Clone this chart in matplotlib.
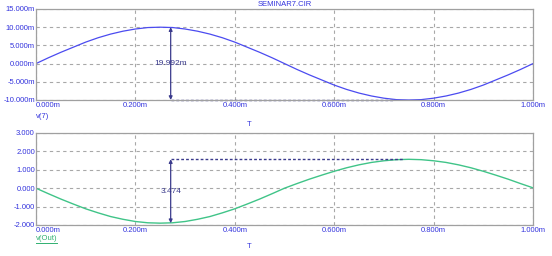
import matplotlib
matplotlib.use("Agg")
import matplotlib.pyplot as plt

plt.rcParams['font.family'] = ['Liberation Sans', 'DejaVu Sans']

# time axis (ms) and the two traces
t_ms = [0.000, 0.025, 0.050, 0.075, 0.100, 0.125, 0.150, 0.175, 0.200, 0.225,
        0.250, 0.275, 0.300, 0.325, 0.350, 0.375, 0.400, 0.425, 0.450, 0.475,
        0.500, 0.525, 0.550, 0.575, 0.600, 0.625, 0.650, 0.675, 0.700, 0.725,
        0.750, 0.775, 0.800, 0.825, 0.850, 0.875, 0.900, 0.925, 0.950, 0.975,
        1.000]
v7_mv = [0.0, 1.6, 3.1, 4.5, 5.9, 7.1, 8.1, 8.9, 9.5, 9.9,
         10.0, 9.9, 9.5, 8.9, 8.1, 7.1, 5.9, 4.5, 3.1, 1.6,
         0.0, -1.6, -3.1, -4.5, -5.9, -7.1, -8.1, -8.9, -9.5, -9.9,
         -10.0, -9.9, -9.5, -8.9, -8.1, -7.1, -5.9, -4.5, -3.1, -1.6,
         0.0]
vout = [0.00, -0.30, -0.59, -0.86, -1.12, -1.34, -1.54, -1.69, -1.81, -1.88,
        -1.90, -1.88, -1.81, -1.69, -1.54, -1.34, -1.12, -0.86, -0.59, -0.30,
        0.00, 0.25, 0.49, 0.71, 0.92, 1.11, 1.27, 1.40, 1.49, 1.55,
        1.57, 1.55, 1.49, 1.40, 1.27, 1.11, 0.92, 0.71, 0.49, 0.25,
        0.02]

x_ticks = [0.0, 0.2, 0.4, 0.6, 0.8, 1.0]
x_labels = ["0.000m", "0.200m", "0.400m", "0.600m", "0.800m", "1.000m"]
top_ticks = [-10, -5, 0, 5, 10, 15]
top_labels = ["-10.000m", "-5.000m", "0.000m", "5.000m", "10.000m", "15.000m"]
bot_ticks = [-2, -1, 0, 1, 2, 3]
bot_labels = ["-2.000", "-1.000", "0.000", "1.000", "2.000", "3.000"]

# cursor readouts
cur_t = 0.271
top_hi, top_lo, top_lo_t = 10.0, -10.0, 0.72
bot_hi, bot_lo, bot_hi_t = 1.574, -1.90, 0.74

TXT = '#3333dd'
CUR = '#3a3a8c'
GRID = '#a8a8a8'
FS = 5.5

fig = plt.figure(figsize=(5.52, 2.56), dpi=100)
ax1 = fig.add_axes([0.0652, 0.6094, 0.9004, 0.3555])
ax2 = fig.add_axes([0.0652, 0.1211, 0.9004, 0.3594])


def style(ax, yt, yl):
    ax.set_xlim(0, 1)
    ax.set_ylim(yt[0], yt[-1])
    ax.set_xticks(x_ticks)
    ax.set_xticklabels(x_labels)
    ax.set_yticks(yt)
    ax.set_yticklabels(yl)
    ax.tick_params(length=0, labelsize=FS, labelcolor=TXT)
    ax.tick_params(axis='x', pad=1.8)
    ax.tick_params(axis='y', pad=0.8)
    ax.get_xticklabels()[0].set_ha('left')
    ax.grid(True, color=GRID, linestyle=(0, (3, 3)), linewidth=0.8)
    for s in ax.spines.values():
        s.set_color('#a0a0a0')
        s.set_linewidth(0.9)


style(ax1, top_ticks, top_labels)
style(ax2, bot_ticks, bot_labels)

ax1.plot(t_ms, v7_mv, color='#4b4bf0', linewidth=0.9)
ax2.plot(t_ms, vout, color='#40c488', linewidth=1.0)

# cursor arrows and dashed reference lines
ax1.annotate('', xy=(cur_t, top_hi), xytext=(cur_t, top_lo),
             arrowprops=dict(arrowstyle='<|-|>', color=CUR, lw=0.9,
                             mutation_scale=5, shrinkA=0, shrinkB=0))
ax1.plot([cur_t, top_lo_t], [top_lo, top_lo], color=CUR, lw=1.0,
         linestyle=(0, (2, 1.5)), clip_on=False)
ax1.text(cur_t, 0, "19.992m", ha='center', va='center', fontsize=FS + 0.5, color=CUR)

ax2.annotate('', xy=(cur_t, bot_hi), xytext=(cur_t, bot_lo),
             arrowprops=dict(arrowstyle='<|-|>', color=CUR, lw=0.9,
                             mutation_scale=5, shrinkA=0, shrinkB=0))
ax2.plot([cur_t, bot_hi_t], [bot_hi, bot_hi], color=CUR, lw=1.0,
         linestyle=(0, (2, 1.5)))
ax2.text(cur_t, -0.2, "3.474", ha='center', va='center', fontsize=FS + 0.5, color=CUR)

fig.text(0.5154, 0.984, "SEMINAR7.CIR", ha='center', va='center', fontsize=FS, color=TXT)
fig.text(36 / 552, 1 - 116 / 256, "v(7)", ha='left', va='center', fontsize=FS, color=TXT)
fig.text(249 / 552, 1 - 124 / 256, "T", ha='center', va='center', fontsize=FS, color=TXT)
fig.text(36 / 552, 1 - 238.5 / 256, "v(Out)", ha='left', va='center', fontsize=FS,
         color='#30b070')
fig.add_artist(plt.Line2D([36 / 552, 57 / 552], [1 - 242.5 / 256, 1 - 242.5 / 256],
                          color='#30b070', lw=0.7))
fig.text(249 / 552, 1 - 246 / 256, "T", ha='center', va='center', fontsize=FS, color=TXT)

fig.savefig("out.png", dpi=100)
